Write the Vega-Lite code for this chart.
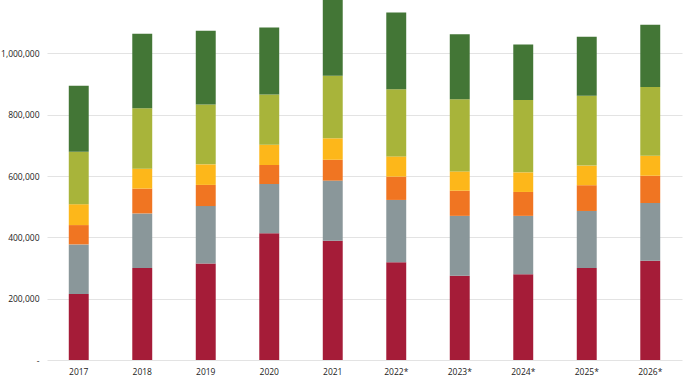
{
  "$schema": "https://vega.github.io/schema/vega-lite/v6.json",
  "width": 635,
  "height": 360,
  "autosize": {"type": "none"},
  "padding": {"left": 47, "top": 0, "right": 6, "bottom": 27},
  "background": "white",
  "config": {"view": {"stroke": null}},
  "data": {
    "values": [
      {"year": "2017", "seg": "S1", "ord": 1, "value": 215000},
      {"year": "2017", "seg": "S2", "ord": 2, "value": 162000},
      {"year": "2017", "seg": "S3", "ord": 3, "value": 63000},
      {"year": "2017", "seg": "S4", "ord": 4, "value": 68000},
      {"year": "2017", "seg": "S5", "ord": 5, "value": 171000},
      {"year": "2017", "seg": "S6", "ord": 6, "value": 215000},
      {"year": "2018", "seg": "S1", "ord": 1, "value": 300000},
      {"year": "2018", "seg": "S2", "ord": 2, "value": 178000},
      {"year": "2018", "seg": "S3", "ord": 3, "value": 81000},
      {"year": "2018", "seg": "S4", "ord": 4, "value": 65000},
      {"year": "2018", "seg": "S5", "ord": 5, "value": 197000},
      {"year": "2018", "seg": "S6", "ord": 6, "value": 243000},
      {"year": "2019", "seg": "S1", "ord": 1, "value": 315000},
      {"year": "2019", "seg": "S2", "ord": 2, "value": 187000},
      {"year": "2019", "seg": "S3", "ord": 3, "value": 69000},
      {"year": "2019", "seg": "S4", "ord": 4, "value": 67000},
      {"year": "2019", "seg": "S5", "ord": 5, "value": 195000},
      {"year": "2019", "seg": "S6", "ord": 6, "value": 241000},
      {"year": "2020", "seg": "S1", "ord": 1, "value": 413000},
      {"year": "2020", "seg": "S2", "ord": 2, "value": 161000},
      {"year": "2020", "seg": "S3", "ord": 3, "value": 62000},
      {"year": "2020", "seg": "S4", "ord": 4, "value": 66000},
      {"year": "2020", "seg": "S5", "ord": 5, "value": 164000},
      {"year": "2020", "seg": "S6", "ord": 6, "value": 218000},
      {"year": "2021", "seg": "S1", "ord": 1, "value": 389000},
      {"year": "2021", "seg": "S2", "ord": 2, "value": 196000},
      {"year": "2021", "seg": "S3", "ord": 3, "value": 68000},
      {"year": "2021", "seg": "S4", "ord": 4, "value": 70000},
      {"year": "2021", "seg": "S5", "ord": 5, "value": 204000},
      {"year": "2021", "seg": "S6", "ord": 6, "value": 263000},
      {"year": "2022*", "seg": "S1", "ord": 1, "value": 319000},
      {"year": "2022*", "seg": "S2", "ord": 2, "value": 203000},
      {"year": "2022*", "seg": "S3", "ord": 3, "value": 76000},
      {"year": "2022*", "seg": "S4", "ord": 4, "value": 66000},
      {"year": "2022*", "seg": "S5", "ord": 5, "value": 219000},
      {"year": "2022*", "seg": "S6", "ord": 6, "value": 250000},
      {"year": "2023*", "seg": "S1", "ord": 1, "value": 275000},
      {"year": "2023*", "seg": "S2", "ord": 2, "value": 195000},
      {"year": "2023*", "seg": "S3", "ord": 3, "value": 82000},
      {"year": "2023*", "seg": "S4", "ord": 4, "value": 63000},
      {"year": "2023*", "seg": "S5", "ord": 5, "value": 235000},
      {"year": "2023*", "seg": "S6", "ord": 6, "value": 212000},
      {"year": "2024*", "seg": "S1", "ord": 1, "value": 280000},
      {"year": "2024*", "seg": "S2", "ord": 2, "value": 190000},
      {"year": "2024*", "seg": "S3", "ord": 3, "value": 78000},
      {"year": "2024*", "seg": "S4", "ord": 4, "value": 64000},
      {"year": "2024*", "seg": "S5", "ord": 5, "value": 236000},
      {"year": "2024*", "seg": "S6", "ord": 6, "value": 181000},
      {"year": "2025*", "seg": "S1", "ord": 1, "value": 300000},
      {"year": "2025*", "seg": "S2", "ord": 2, "value": 186000},
      {"year": "2025*", "seg": "S3", "ord": 3, "value": 84000},
      {"year": "2025*", "seg": "S4", "ord": 4, "value": 64000},
      {"year": "2025*", "seg": "S5", "ord": 5, "value": 228000},
      {"year": "2025*", "seg": "S6", "ord": 6, "value": 192000},
      {"year": "2026*", "seg": "S1", "ord": 1, "value": 324000},
      {"year": "2026*", "seg": "S2", "ord": 2, "value": 188000},
      {"year": "2026*", "seg": "S3", "ord": 3, "value": 89000},
      {"year": "2026*", "seg": "S4", "ord": 4, "value": 65000},
      {"year": "2026*", "seg": "S5", "ord": 5, "value": 224000},
      {"year": "2026*", "seg": "S6", "ord": 6, "value": 203000}
    ]
  },
  "mark": {"type": "bar", "clip": true},
  "encoding": {
    "x": {
      "field": "year",
      "type": "ordinal",
      "sort": null,
      "scale": {"paddingInner": 0.686, "paddingOuter": 0.343},
      "axis": {
        "title": null,
        "labelAngle": 0,
        "domain": false,
        "ticks": false,
        "labelPadding": 7,
        "labelFont": "Open Sans",
        "labelFontSize": 8.5,
        "labelColor": "#222222"
      }
    },
    "y": {
      "field": "value",
      "type": "quantitative",
      "stack": "zero",
      "scale": {"domain": [0, 1174000], "nice": false},
      "axis": {
        "title": null,
        "values": [0, 200000, 400000, 600000, 800000, 1000000],
        "labelExpr": "datum.value == 0 ? '-' : format(datum.value, ',')",
        "domain": false,
        "ticks": false,
        "labelPadding": 8,
        "labelFont": "Open Sans",
        "labelFontSize": 8.5,
        "labelColor": "#222222",
        "grid": true,
        "gridColor": "#e3e3e3",
        "gridWidth": 1
      }
    },
    "color": {
      "field": "seg",
      "type": "nominal",
      "scale": {
        "domain": ["S1", "S2", "S3", "S4", "S5", "S6"],
        "range": ["#A51C38", "#8A979A", "#F07522", "#FDB71A", "#A8B43A", "#437636"]
      },
      "legend": null
    },
    "order": {"field": "ord", "type": "quantitative", "sort": "ascending"}
  }
}
